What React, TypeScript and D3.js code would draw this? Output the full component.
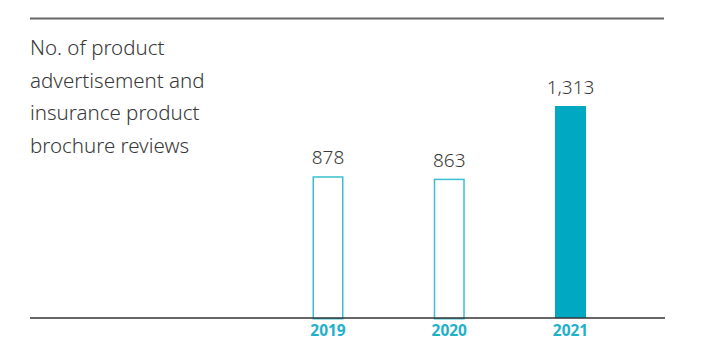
import React from "react";
import * as d3 from "d3";

const years = ["2019", "2020", "2021"];
const values = [878, 863, 1313];
const valueLabels = ["878", "863", "1,313"];
const highlight = [false, false, true];
const titleLines = ["No. of product", "advertisement and", "insurance product", "brochure reviews"];

export default function App() {
  const W = 706, H = 339;
  const baseY = 318;
  const x = d3.scalePoint<string>().domain(years).range([328, 570.5]);
  const y = d3.scaleLinear().domain([0, 1313]).range([baseY, 106]);
  const bw = 31;
  const teal = "#00a8c1";
  const font = "'Noto Sans', 'Open Sans', sans-serif";
  return (
    <svg width={W} height={H} style={{ position: "absolute", left: 0, top: 0 }}>
      <line x1={30} x2={664} y1={18.5} y2={18.5} stroke="#666" strokeWidth={2} />
      {titleLines.map((t, i) => (
        <text key={i} x={30} y={55 + i * 32.5} fontFamily={font} fontSize={20.5} fill="#383838"
          fontWeight={300}>{t}</text>
      ))}
      {years.map((yr, i) => {
        const cx = x(yr)!;
        const top = y(values[i]);
        return (
          <g key={yr}>
            {highlight[i] ? (
              <rect x={cx - bw / 2} y={top} width={bw} height={baseY - top} fill={teal} />
            ) : (
              <rect x={cx - bw / 2 + 0.75} y={top + 0.75} width={bw - 1.5} height={baseY - top} fill="none"
                stroke="#3bbfd3" strokeWidth={1.5} />
            )}
            <text x={cx} y={top - 12} textAnchor="middle" fontFamily={font} fontSize={19}
              fill="#383838" fontWeight={300}>{valueLabels[i]}</text>
            <text x={cx} y={335.5} textAnchor="middle" fontFamily={font} fontSize={15.5}
              fontWeight={700} fill="#1fb1c8">{yr}</text>
          </g>
        );
      })}
      <line x1={30} x2={665} y1={318} y2={318} stroke="#333" strokeWidth={1.5} />
    </svg>
  );
}
